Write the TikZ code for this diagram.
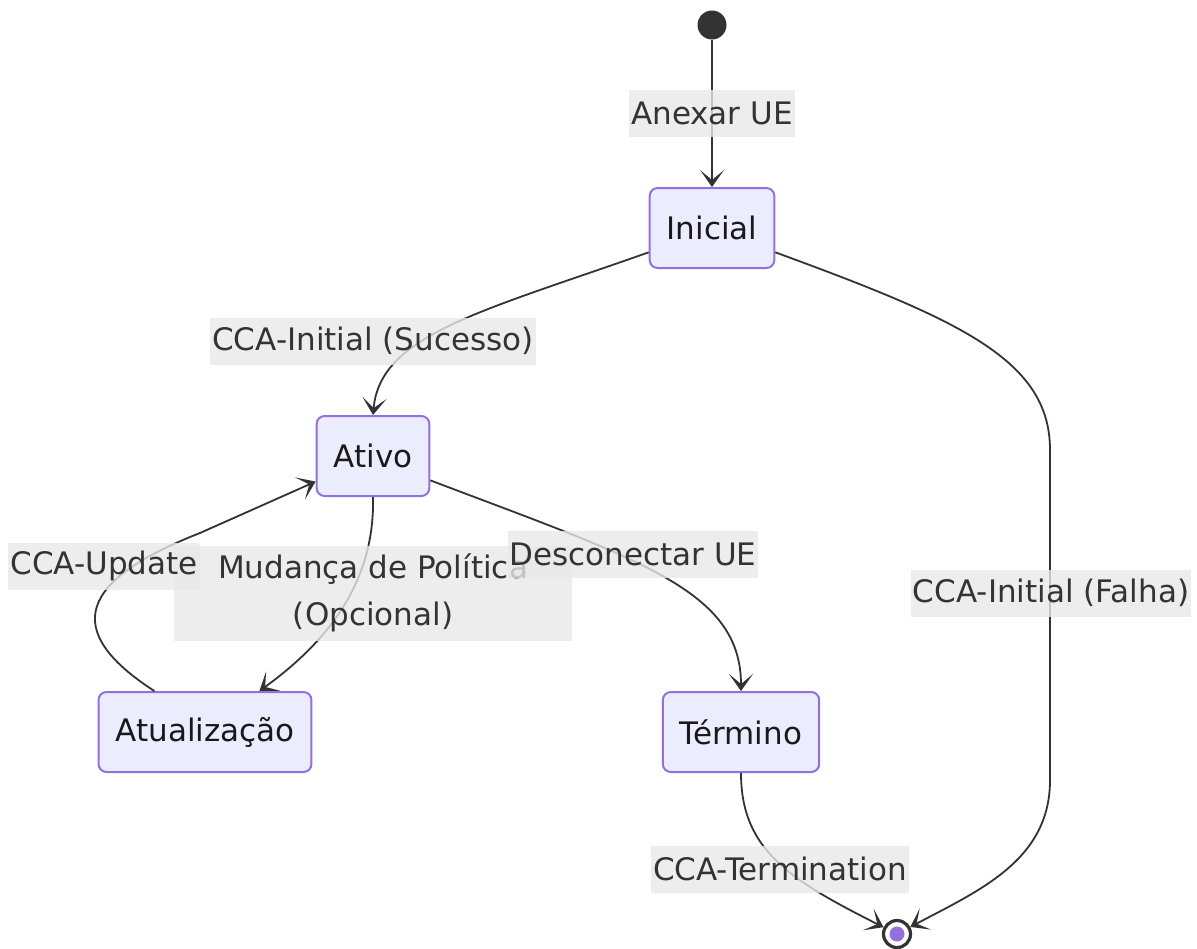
\documentclass[tikz,border=0pt]{standalone}
\usepackage{fontspec}
\setmainfont{DejaVu Sans}
\usetikzlibrary{arrows.meta}
\definecolor{stfill}{HTML}{ECECFF}
\definecolor{stline}{HTML}{9370DB}
\definecolor{ink}{HTML}{333333}
\definecolor{lblbg}{HTML}{E8E8E8}
\tikzset{every node/.style={inner sep=0pt}}
\tikzset{st/.style={rectangle,rounded corners=4pt,draw=stline,fill=stfill,line width=1pt,minimum height=40pt,inner xsep=8.5pt,text=black!90}}
\tikzset{lbl/.style={rectangle,fill=lblbg,fill opacity=0.8,text opacity=1,text=ink,minimum height=23.5pt,inner xsep=1pt}}
\tikzset{startdot/.style={circle,fill=ink,minimum size=14.5pt}}
\tikzset{enddot/.style={circle,draw=ink,line width=1.6pt,fill=white,minimum size=13.5pt}}
\tikzset{enddotin/.style={circle,fill=stline,minimum size=7.5pt}}
\tikzset{>={Stealth[length=8.5pt,width=12pt,inset=5pt]}}

\begin{document}
\begin{tikzpicture}[x=0.5pt,y=0.5pt,font=\fontsize{15.5pt}{23.5pt}\selectfont,
  edge/.style={->,draw=ink,line width=0.9pt}]
      \useasboundingbox (0,0) rectangle (1197,-948);
      \node[startdot] (s0) at (712,-25) {};
      \node[st] (ini) at (712,-228) {Inicial};
      \node[st] (ativo) at (373,-456) {Ativo};
      \node[st] (atual) at (205,-732) {Atualização};
      \node[st] (term) at (741,-732) {Término};
      \node[enddot] (fim) at (897,-934) {};
      \node[enddotin] (fimin) at (fim) {};
        \draw[edge] (s0) -- (ini);
        \draw[edge] (ini.201) .. controls (480,-312) and (380,-335) .. (ativo.north);
        \draw[edge] (ini.-21) .. controls (960,-320) and (1050,-360) .. (1050,-450) -- (1050,-780) .. controls (1050,-860) and (980,-890) .. (fim);
        \draw[edge] (ativo.south) .. controls (375,-580) and (330,-640) .. (atual.37);
        \draw[edge] (atual.141) .. controls (60,-630) and (80,-580) .. (200,-533) -- (ativo.204);
        \draw[edge] (ativo.-23) .. controls (640,-560) and (741,-590) .. (term.north);
        \draw[edge] (term.south) .. controls (741,-850) and (790,-880) .. (fim);
      \node[lbl] (lanex) at (712,-113) {Anexar UE};
      \node[lbl] (lsuc) at (373,-341) {CCA-Initial (Sucesso)};
      \node[lbl] (lfal) at (1051,-593) {CCA-Initial (Falha)};
      \node[lbl,minimum width=199pt,minimum height=47.5pt,align=center] (lmud) at (373,-593) {Mudança de Política\\(Opcional)};
      \node[lbl] (lupd) at (104,-566) {CCA-Update};
      \node[lbl] (ldesc) at (633,-554) {Desconectar UE};
      \node[lbl] (lterm) at (780,-869) {CCA-Termination};
    \end{tikzpicture}
\end{document}
